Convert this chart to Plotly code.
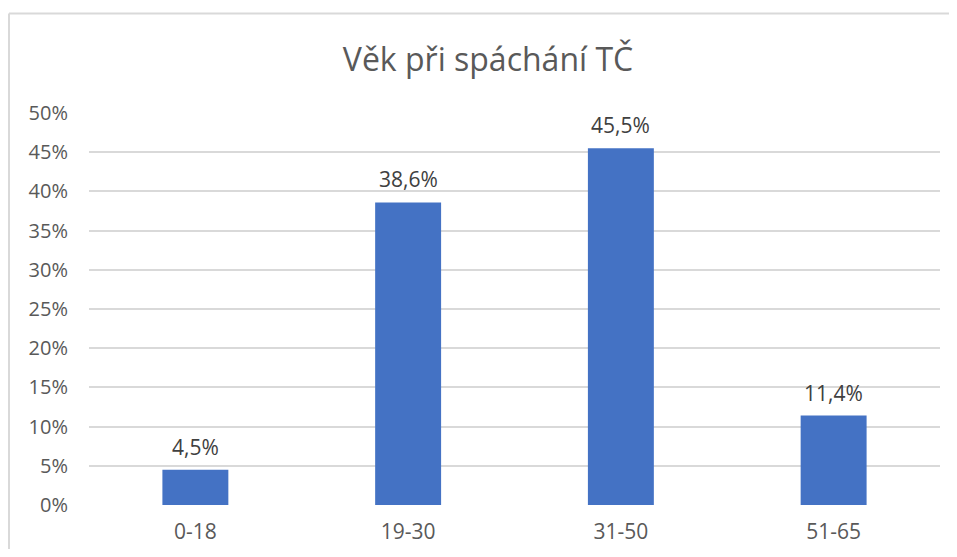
import plotly.graph_objects as go

categories = ["0-18", "19-30", "31-50", "51-65"]
values = [4.5, 38.6, 45.5, 11.4]
tick_vals = [0, 5, 10, 15, 20, 25, 30, 35, 40, 45, 50]
tick_text = [f"{v}%" for v in tick_vals]
labels = [f"{v:.1f}".replace(".", ",") + "%" for v in values]

W, H = 941, 541
L, R, T, B = 81, 9, 105, 44
pw = W - L - R
ph = H - T - B

fig = go.Figure(go.Bar(
    x=categories, y=values,
    marker=dict(color="#4472C4", line=dict(width=0)),
    cliponaxis=False,
))

for c, v, t in zip(categories, values, labels):
    fig.add_annotation(x=c, y=v, text=t, showarrow=False,
                       yanchor="bottom", yshift=7,
                       font=dict(family="Open Sans", size=21, color="#404040"))

x_left = (1 - L) / pw
x_right = (W - L) / pw
y_top = 1 + (T - 5.5) / ph
y_bot = -(B + 5) / ph

fig.update_layout(
    width=W, height=H,
    margin=dict(l=L, r=R, t=T, b=B, autoexpand=False),
    paper_bgcolor="white", plot_bgcolor="white",
    bargap=0.69,
    showlegend=False,
    title=dict(text="Věk při spáchání TČ", x=480 / W, xanchor="center",
               y=1 - 52 / H, yanchor="middle",
               font=dict(family="Open Sans", size=32, color="#595959")),
    font=dict(family="Open Sans", color="#595959"),
    xaxis=dict(showgrid=False, zeroline=False, showline=False,
               automargin=False,
               tickfont=dict(size=21, color="#595959"),
               ticklabelstandoff=12),
    yaxis=dict(range=[0, 50], tickvals=tick_vals, ticktext=tick_text,
               showgrid=True, gridcolor="#d9d9d9", gridwidth=2,
               zeroline=False, showline=False, automargin=False,
               tickfont=dict(size=20, color="#595959"),
               ticklabelstandoff=20),
    shapes=[
        dict(type="line", xref="paper", yref="paper",
             x0=x_left, x1=x_right, y0=y_top, y1=y_top,
             line=dict(color="#d9d9d9", width=2), layer="below"),
        dict(type="line", xref="paper", yref="paper",
             x0=x_left, x1=x_left, y0=y_bot, y1=y_top,
             line=dict(color="#d9d9d9", width=2), layer="below"),
    ],
)

fig.write_html("out.html")
